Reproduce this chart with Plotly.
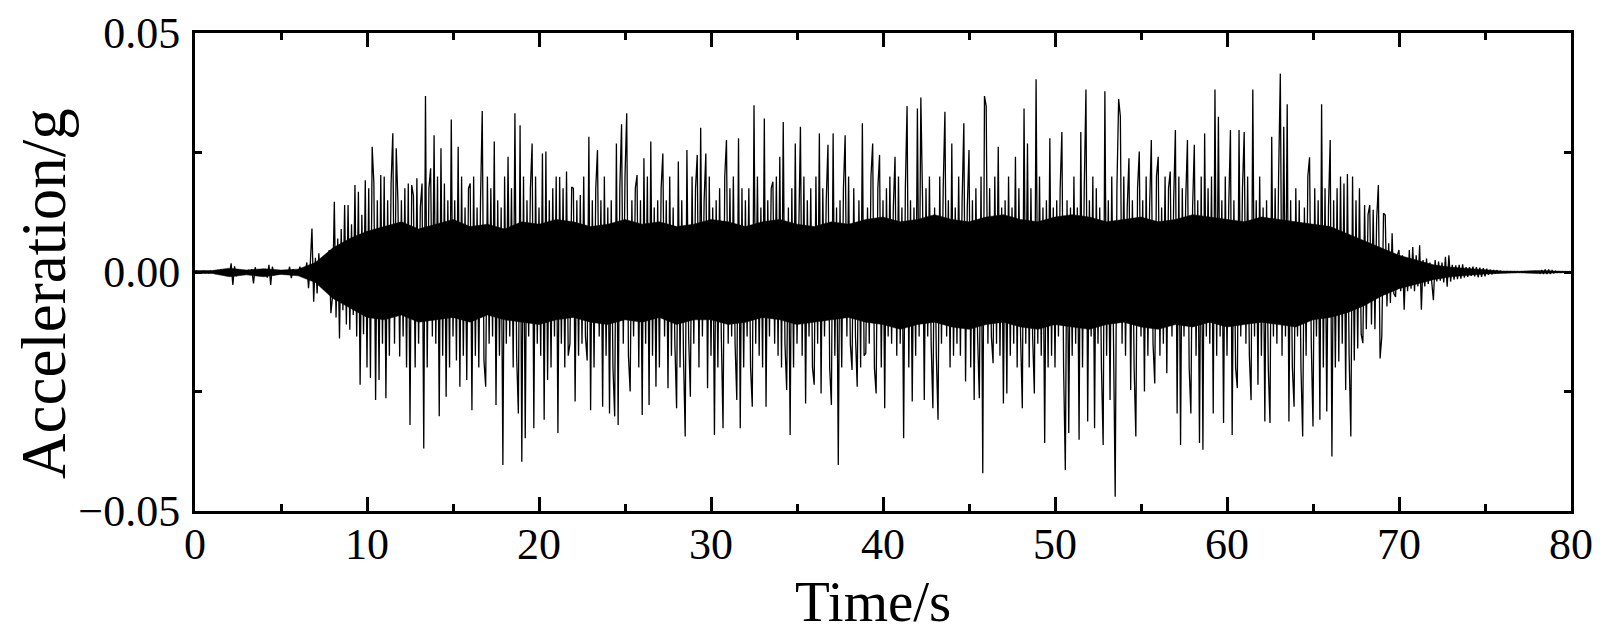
import plotly.graph_objects as go

# Sampling interval of the record (s) and acceleration values,
# in units of 0.001 g, one row of ten samples per second (0 s ... 79.9 s) plus the final sample at 80 s.
DT = 0.1
acc_mg_rows = [
    [0, 0.2, -0.2, 0.1, -0.1, 0.2, -0.2, 0.1, -0.2, 0.2],
    [-0.1, 0.2, -0.3, 0.3, -0.2, 0.5, -0.5, 0.4, -0.4, 0.6],
    [-0.8, 1.8, -2.7, 1.2, -0.9, 0.5, -0.4, 0.3, -0.3, 0.2],
    [-0.2, 0.3, -0.4, 0.6, -2.4, 1.0, -0.8, 0.5, -0.4, 0.3],
    [-0.3, 0.6, -1.2, 1.5, -2.7, 1.1, -0.7, 0.4, -0.3, 0.2],
    [-0.2, 0.2, -0.3, 0.4, -0.6, 1.1, -1.3, 0.6, -0.4, 0.3],
    [-0.3, 1.1, -0.5, 0.4, -0.6, 2.0, -3.4, 1.5, 9.1, -6.2],
    [3.0, -4.5, 3.9, -2.5, 2.8, -3.6, 2.2, -3.0, 4.6, -8.6],
    [-5.0, 14.7, -9.5, 7.0, -13.9, 9.0, -8.0, 14.0, -11.0, 14.0],
    [-12.1, 10.0, -9.0, 18.2, -13.5, 16.8, -23.6, 12.0, -13.0, 19.2],
    [-20.0, 17.5, -22.2, 26.2, 18.5, -26.8, 15.0, -22.6, 20.3, -15.0],
    [20.0, -26.4, 15.0, -17.5, 18.5, 29.0, -15.0, 25.9, 14.5, -17.7],
    [15.0, -13.5, 17.5, -20.0, 18.5, -32.0, 18.2, 16.0, -20.0, 19.6],
    [-15.0, 13.5, 18.5, -36.9, 36.8, -20.0, 17.5, 21.7, -13.5, 28.6],
    [-15.0, 20.0, -30.2, 25.9, -17.5, 18.5, -26.1, 15.0, -20.0, 31.9],
    [-13.5, 15.0, -18.5, 26.2, -24.0, 20.0, -17.5, 13.5, -22.6, 17.5],
    [18.5, -28.9, 20.0, -17.5, 13.5, -20.0, 15.0, 33.7, -18.5, -24.0],
    [20.0, -15.0, 17.5, -13.5, 27.3, -27.8, 15.0, -17.5, 13.5, -40.4],
    [20.0, -15.0, 24.1, -13.5, 17.5, -20.0, 33.2, -17.5, -29.6, 30.7],
    [-39.7, 20.0, -34.8, 15.0, -13.5, 17.5, 26.9, -32.7, 20.0, -15.0],
    [13.5, -17.5, 24.8, -30.9, 25.2, -22.6, 15.0, -20.0, 17.5, -13.5],
    [20.0, -33.7, 19.9, -15.0, 17.5, -20.0, 21.0, -17.5, -15.0, 17.8],
    [17.5, -27.1, 15.0, -17.5, 16.1, -15.0, 20.0, -13.5, -18.5, 28.3],
    [-28.9, 15.0, -20.0, 17.5, 25.5, -13.5, 15.0, -28.2, 20.0, -17.5],
    [13.5, -29.6, 15.0, -20.0, -30.2, 26.9, -32.0, 17.5, 30.9, -15.0],
    [20.0, 33.2, -17.5, -25.0, 15.0, -13.5, 17.5, 20.3, -20.0, 15.0],
    [-29.9, 23.8, -15.0, 20.0, -27.8, 27.3, -17.5, 13.5, -24.0, 15.0],
    [-20.0, 17.5, 24.8, -13.5, 15.0, -24.3, 20.0, -17.5, 13.5, -15.0],
    [-28.5, 23.1, -20.0, 15.0, -17.5, -34.4, 25.5, -13.5, -26.1, 20.0],
    [-15.0, 17.5, 24.5, -20.0, 30.2, -13.5, 15.0, 24.8, -24.3, 20.0],
    [-17.5, 13.5, -34.1, 15.0, -20.0, 17.5, -13.5, -32.7, 20.0, 27.6],
    [-15.0, 17.5, -13.5, 20.0, -15.0, -26.8, 28.0, -32.7, 17.5, -20.0],
    [15.0, -13.5, 17.5, -20.0, -28.2, 34.9, -15.0, 20.0, -17.5, 13.5],
    [-20.0, 32.1, -28.2, 15.0, -13.5, 17.5, 18.9, -15.0, 20.0, -17.5],
    [24.1, -20.0, 31.4, -15.0, -24.7, 13.5, -34.1, 17.5, -20.0, 26.9],
    [-15.0, 13.5, 30.4, -17.5, 20.0, -27.5, 15.0, -13.5, 17.5, -20.0],
    [-23.6, 20.0, -15.0, 29.0, -25.4, 17.5, -13.5, 15.0, 26.6, -20.0],
    [-27.8, 29.0, -17.5, 13.5, -40.4, 15.0, -20.0, 17.5, 28.6, -13.5],
    [20.0, -15.0, -20.5, 17.5, -13.5, -24.0, 15.0, -20.0, 31.1, -17.5],
    [-17.0, 13.5, -15.0, 20.0, 26.9, -20.1, -25.4, 17.5, 24.5, -20.0],
    [15.0, -28.5, 17.5, -13.5, 20.0, -15.0, 13.5, 24.1, -17.5, 20.0],
    [-15.0, 13.5, -34.8, 17.5, 34.7, -20.0, 15.0, -27.1, 13.5, -17.5],
    [34.2, -13.5, 36.5, 15.0, -26.8, 17.5, -13.5, 20.0, -15.0, -28.5],
    [13.5, -17.5, -30.9, 20.0, -15.0, 17.5, 33.5, -13.5, 15.0, -20.0],
    [26.9, -17.5, 13.5, -15.0, 20.0, -17.5, 15.0, 31.1, -22.9, 13.5],
    [25.5, -20.0, 15.0, -26.8, 17.5, -13.5, -26.4, 20.0, -42.1, 36.8],
    [34.7, -15.0, 17.5, -13.5, -19.1, 20.0, -15.0, 26.2, -17.5, 13.5],
    [-27.5, 15.0, -25.4, 20.0, -17.5, 13.5, -15.0, 24.1, -20.0, 17.5],
    [-13.5, -28.5, 34.2, -15.0, 26.9, -20.0, 17.5, -13.5, -25.4, 40.3],
    [-15.0, 20.0, -17.5, 13.5, -35.8, 15.0, -20.0, 28.0, -17.5, 13.5],
    [-20.0, 15.0, -13.5, 17.5, 29.3, -20.0, -41.4, 15.0, -33.7, 13.5],
    [-17.5, 20.0, -15.0, 13.5, -35.1, 29.3, -20.0, 17.5, 38.2, -31.3],
    [15.0, -13.5, 20.0, -32.7, 17.5, -15.0, 13.5, -20.0, -36.2, 37.8],
    [-17.5, 15.0, -26.8, 20.0, -13.5, -47.0, 17.5, 36.2, 32.5, -15.0],
    [20.0, -17.5, 13.5, 23.8, -24.7, 15.0, -20.0, -34.4, 17.5, 25.2],
    [-13.5, 15.0, -25.0, 20.0, -17.5, 13.5, 27.6, -15.0, -23.3, 20.0],
    [24.1, -17.5, 13.5, -15.0, 20.0, -21.2, 17.5, 21.0, -13.5, 15.0],
    [29.7, -29.6, 20.0, -36.2, 17.5, -13.5, 15.0, 27.6, -20.0, -29.6],
    [13.5, 26.6, -17.5, 15.0, -35.8, 20.0, -37.2, 29.0, -13.5, 17.5],
    [-15.0, 20.0, -29.6, 38.2, -17.5, 32.5, -13.5, 15.0, -31.6, 20.0],
    [-17.5, 13.5, 29.7, -34.1, 15.0, -20.0, -24.3, 29.7, -13.5, 17.5],
    [29.3, -15.0, 20.0, -17.5, -26.8, 38.2, -13.5, 15.0, -23.6, 20.0],
    [-17.5, 13.5, -31.3, 15.0, -20.0, -31.6, 28.3, -13.5, 17.5, -15.0],
    [20.0, 41.5, -17.5, 30.4, -13.5, 35.1, -31.3, 15.0, -20.0, -28.2],
    [17.5, -13.5, 15.0, -20.0, -34.4, 13.5, -17.5, 20.0, 24.0, -15.0],
    [-32.3, 17.5, -13.5, 15.0, -30.9, 35.1, -20.0, 17.5, -29.2, 13.5],
    [27.6, -38.6, 15.0, -20.0, 17.5, -18.7, 20.0, -15.0, 18.5, -24.7],
    [20.5, -17.5, -34.4, 20.0, -18.5, 15.0, -16.0, 17.5, -13.0, -14.9],
    [14.0, -12.0, 12.0, 14.0, -11.0, 13.0, -12.0, 11.0, 18.2, -18.1],
    [-13.5, 12.3, 11.9, -7.2, 6.0, -6.5, 8.1, -4.5, -5.2, 3.5],
    [4.6, -4.0, 3.5, -7.9, 3.0, -4.0, 4.6, -3.5, 5.2, -4.0],
    [3.5, -3.0, 5.6, -7.9, 2.5, -3.0, 2.8, -2.5, 2.0, -2.5],
    [-5.9, 2.5, -2.0, 2.2, -1.8, 2.0, -2.2, 3.2, -3.1, 3.5],
    [-2.0, 1.5, -1.6, 1.4, -1.5, 1.5, -1.4, 1.6, -1.2, 1.0],
    [-1.0, 1.0, -0.8, 1.1, -0.9, 1.0, -1.1, 0.9, -1.0, 0.8],
    [-0.9, 0.7, -0.6, 0.5, -0.5, 0.4, -0.3, 0.3, -0.2, 0.2],
    [-0.1, 0.1, -0.1, 0.1, -0.1, 0.1, -0.1, 0.1, -0.1, 0.1],
    [-0.1, 0.1, -0.1, 0.1, -0.1, 0.1, -0.1, 0.1, -0.1, 0.1],
    [-0.1, 0.1, -0.3, 0.4, -0.4, 0.5, -0.4, 0.5, -0.4, 0.3],
    [-0.2, 0.2, -0.1, 0.1, -0.1, 0.1, -0.1, 0.1, -0.1, 0.1],
]
acc_mg_last = [0.0]

# Extent of the solid black core of the record (0.001 g), read once per second, 0 s ... 80 s.
core_upper_mg = [
    0.3, 0.3, 0.8, 0.4, 0.7, 0.4, 0.6, 2.0, 5.0, 7.0,
    8.5, 9.5, 10.5, 9.0, 10.0, 11.0, 9.5, 10.0, 9.0, 10.5,
    10.0, 11.0, 10.5, 9.5, 10.0, 11.0, 10.0, 10.5, 9.5, 10.0,
    11.0, 10.5, 9.5, 10.5, 11.0, 10.0, 9.5, 10.5, 10.0, 11.0,
    11.5, 10.5, 11.0, 12.0, 11.0, 10.5, 11.5, 12.0, 11.0, 10.5,
    11.5, 12.0, 11.5, 10.5, 11.0, 11.5, 10.5, 11.0, 12.0, 11.5,
    11.0, 10.5, 11.5, 11.0, 10.5, 10.0, 9.5, 8.0, 6.5, 5.0,
    3.5, 2.5, 1.5, 1.0, 0.7, 0.4, 0.2, 0.15, 0.3, 0.2, 0.1,
]
core_lower_mg = [
    -0.3, -0.3, -1.0, -0.6, -1.0, -0.5, -0.8, -2.2, -5.5, -7.5,
    -9.5, -10.0, -9.0, -10.5, -10.0, -9.5, -10.5, -9.0, -10.0, -10.5,
    -11.0, -10.0, -9.5, -10.5, -11.0, -10.0, -10.5, -9.5, -11.0, -10.0,
    -10.0, -11.0, -10.5, -9.5, -10.0, -11.0, -10.5, -10.0, -9.5, -10.5,
    -11.0, -12.0, -11.0, -10.5, -11.5, -12.0, -11.0, -10.5, -11.5, -12.0,
    -11.0, -11.5, -12.0, -11.0, -10.5, -11.5, -12.0, -11.0, -11.5, -10.5,
    -11.5, -11.0, -10.5, -11.0, -11.5, -10.0, -9.5, -8.5, -7.0, -5.0,
    -3.5, -2.5, -1.6, -1.0, -0.7, -0.4, -0.2, -0.15, -0.3, -0.2, -0.1,
]

x_tick_vals = [0, 10, 20, 30, 40, 50, 60, 70, 80]
y_tick_vals = [-0.05, 0.0, 0.05]
y_tick_text = ["\u22120.05", "0.00", "0.05"]

x_title = "Time/s"
y_title = "Acceleration/g"

acc_mg = [v for row in acc_mg_rows for v in row] + acc_mg_last
acc_g = [v / 1000.0 for v in acc_mg]
time_s = [round(i * DT, 3) for i in range(len(acc_g))]
core_t = list(range(len(core_upper_mg)))

FONT = "Liberation Serif, Times New Roman, serif"

fig = go.Figure()
fig.add_trace(go.Scatter(
    x=core_t + core_t[::-1],
    y=[v / 1000.0 for v in core_upper_mg] + [v / 1000.0 for v in core_lower_mg[::-1]],
    mode="lines", fill="toself", fillcolor="black",
    line=dict(color="black", width=0.5),
    showlegend=False, hoverinfo="skip",
))
fig.add_trace(go.Scatter(
    x=time_s, y=acc_g, mode="lines",
    line=dict(color="black", width=1.3),
    showlegend=False, hoverinfo="skip",
))

fig.update_layout(
    width=1608, height=642,
    margin=dict(l=187, r=45, t=25, b=139),
    paper_bgcolor="white", plot_bgcolor="white",
    font=dict(family=FONT, color="black", size=44),
    showlegend=False,
)

fig.update_xaxes(
    range=[0, 80], tickmode="array", tickvals=x_tick_vals, automargin=False,
    ticks="inside", ticklen=14, tickwidth=3, tickcolor="black",
    showline=True, linewidth=3, linecolor="black", mirror="allticks",
    showgrid=False, zeroline=False, ticklabelstandoff=-8,
    tickfont=dict(family=FONT, size=44, color="black"),
    minor=dict(dtick=5, tick0=0, ticks="inside", ticklen=7, tickwidth=2.5, tickcolor="black", showgrid=False),
)
fig.update_yaxes(
    range=[-0.05, 0.05], tickmode="array", tickvals=y_tick_vals, ticktext=y_tick_text, automargin=False,
    ticks="inside", ticklen=7, tickwidth=3, tickcolor="black",
    showline=True, linewidth=3, linecolor="black", mirror="allticks",
    showgrid=False, zeroline=False, ticklabelstandoff=3,
    tickfont=dict(family=FONT, size=44, color="black"),
    minor=dict(dtick=0.025, tick0=0, ticks="inside", ticklen=7, tickwidth=2.5, tickcolor="black", showgrid=False),
)

fig.add_annotation(
    text=x_title, xref="paper", yref="paper", x=0.4927, y=-0.19,
    xanchor="center", yanchor="middle", showarrow=False,
    font=dict(family=FONT, size=57, color="black"),
)
fig.add_annotation(
    text=y_title, xref="paper", yref="paper", x=-0.1097, y=0.454,
    xanchor="center", yanchor="middle", textangle=-90, showarrow=False,
    font=dict(family=FONT, size=63, color="black"),
)

fig.write_html("out.html")
